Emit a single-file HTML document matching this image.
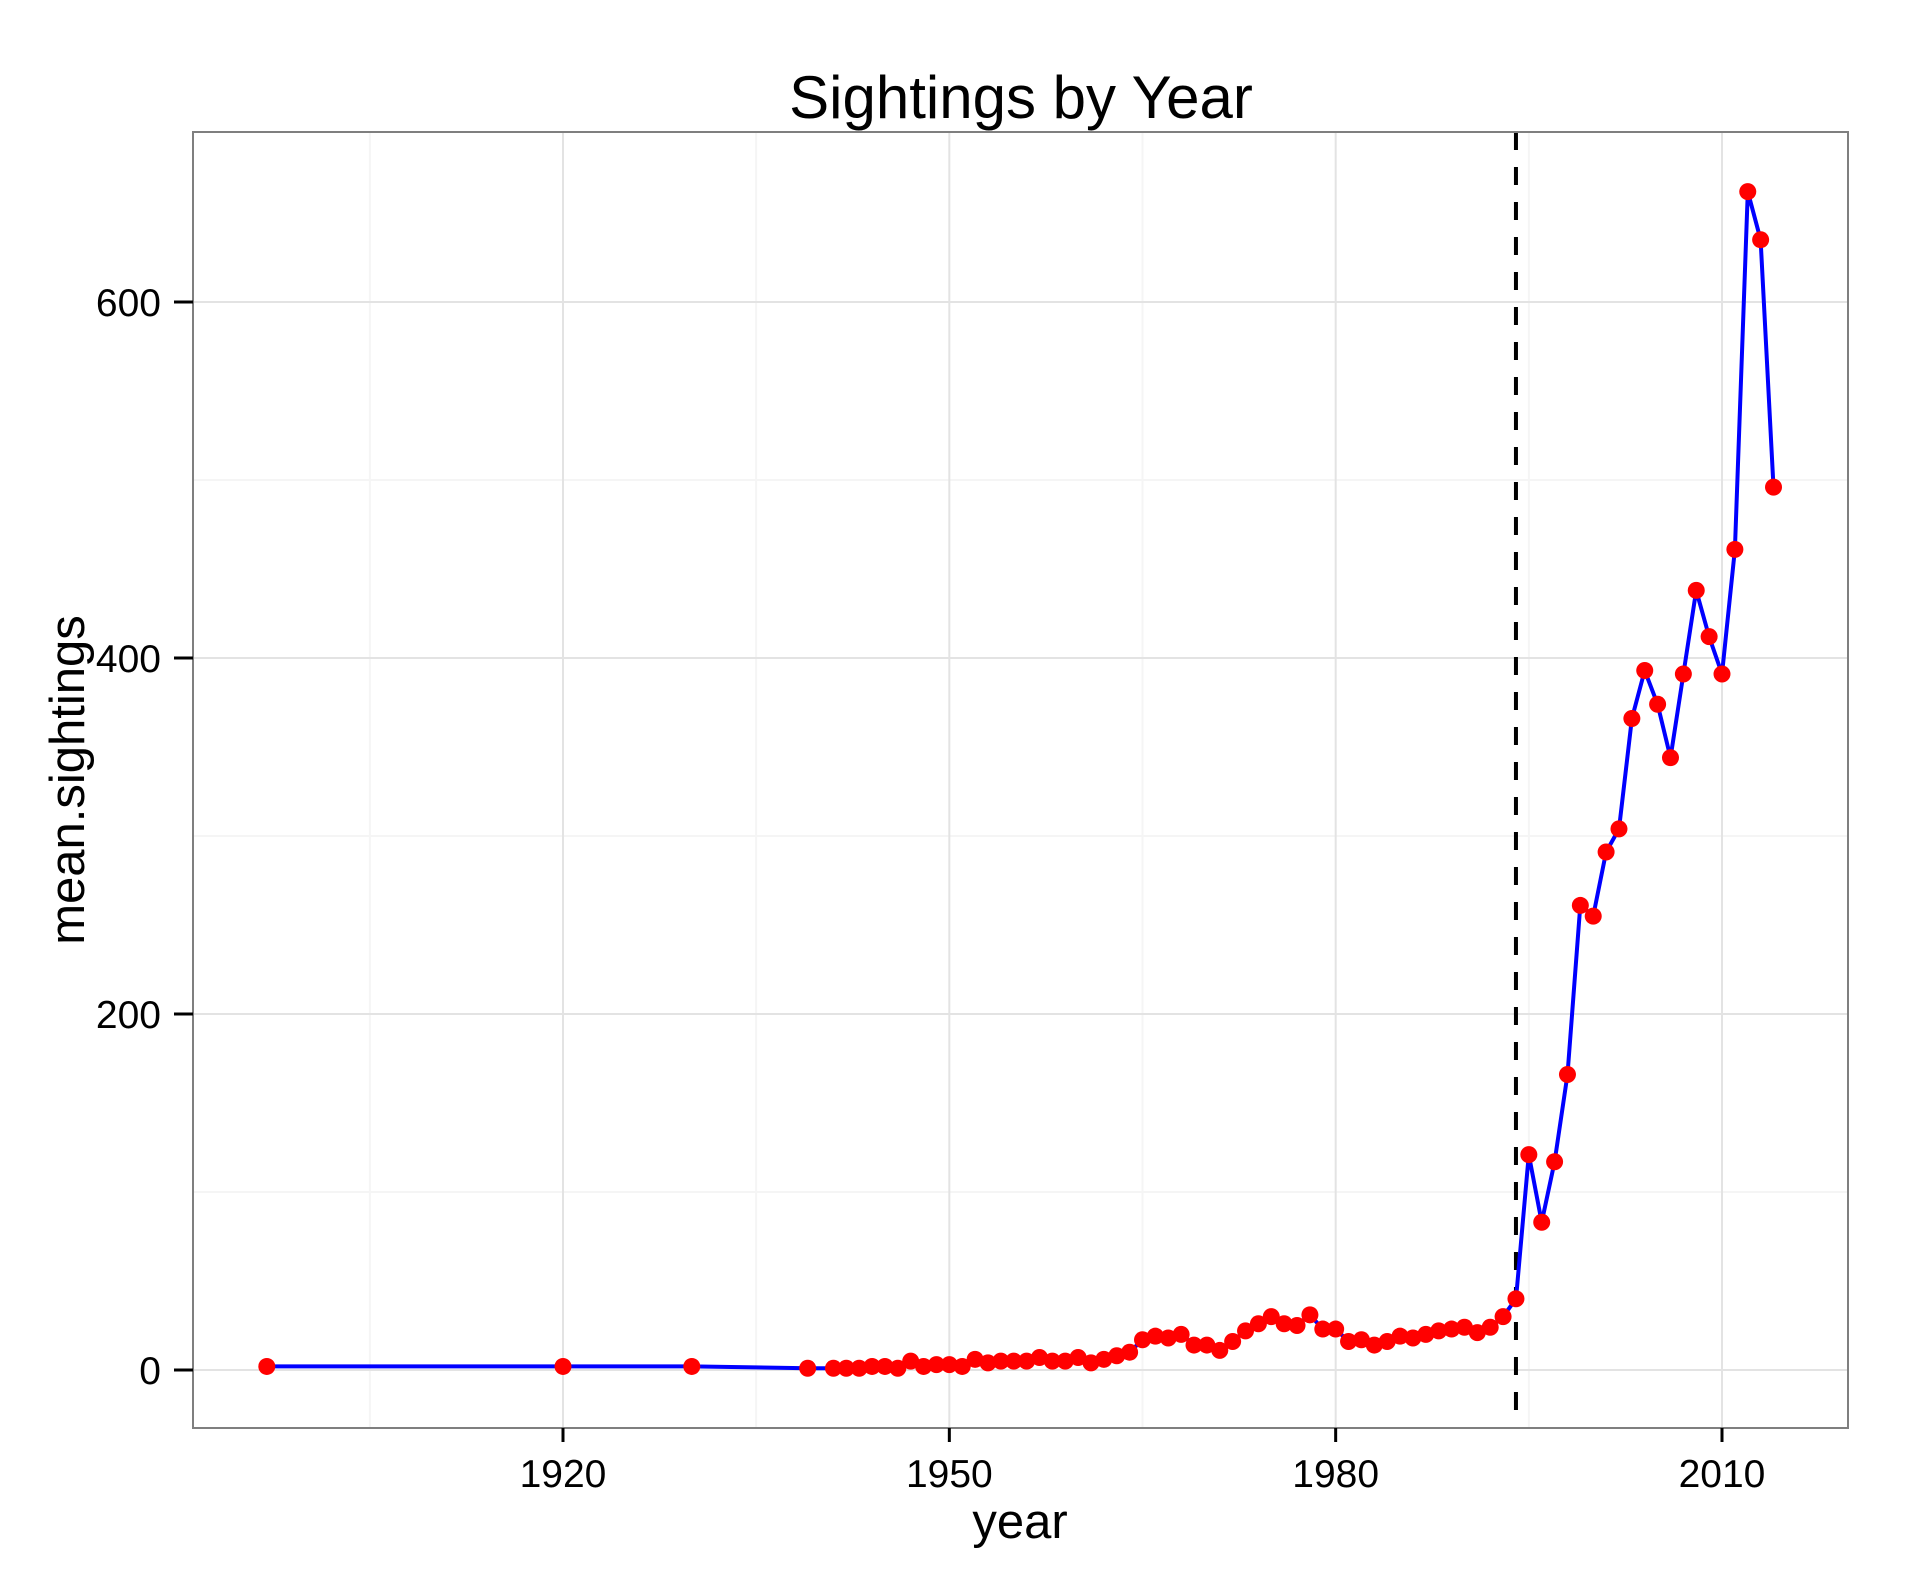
<!DOCTYPE html>
<html><head><meta charset="utf-8"><style>
html,body{margin:0;padding:0;background:#fff;}
svg{display:block;font-family:"Liberation Sans",Arial,sans-serif;}
</style></head><body>
<svg id="chart" width="1908" height="1583" viewBox="0 0 1908 1583">
<rect x="0" y="0" width="1908" height="1583" fill="#fff"/>
<text x="1021" y="118" font-size="60" text-anchor="middle">Sightings by Year</text>
<g id="grid"></g>
<g id="marks"></g>
<rect x="193" y="132" width="1655" height="1296" fill="none" stroke="#7f7f7f" stroke-width="2"/>
<g id="axes"></g>
<text x="1020" y="1538" font-size="49" text-anchor="middle">year</text>
<text transform="translate(84,780) rotate(-90)" font-size="49" text-anchor="middle">mean.sightings</text>
</svg>
<script>
const years = [1897,1920,1930,1939,1941,1942,1943,1944,1945,1946,1947,1948,1949,1950,1951,1952,1953,1954,1955,1956,1957,1958,1959,1960,1961,1962,1963,1964,1965,1966,1967,1968,1969,1970,1971,1972,1973,1974,1975,1976,1977,1978,1979,1980,1981,1982,1983,1984,1985,1986,1987,1988,1989,1990,1991,1992,1993,1994,1995,1996,1997,1998,1999,2000,2001,2002,2003,2004,2005,2006,2007,2008,2009,2010,2011,2012,2013,2014];
const sightings = [2,2,2,1,1,1,1,2,2,1,5,2,3,3,2,6,4,5,5,5,7,5,5,7,4,6,8,10,17,19,18,20,14,14,11,16,22,26,30,26,25,31,23,23,16,17,14,16,19,18,20,22,23,24,21,24,30,40,121,83,117,166,261,255,291,304,366,393,374,344,391,438,412,391,461,662,635,496];
const xMajor = [1920,1950,1980,2010];
const xMinor = [1905,1935,1965,1995];
const yMajor = [0,200,400,600];
const yMinor = [100,300,500];
const vline = [1994];

const X0=193, X1=1848, Y0=132, Y1=1428;
const sx = v => 563 + (v-1920)*(1722-563)/90;
const sy = v => 1370 - v*(1370-302)/600;
const NS="http://www.w3.org/2000/svg";
function mk(tag, parent, attrs){const e=document.createElementNS(NS,tag);for(const k in attrs)e.setAttribute(k,attrs[k]);parent.appendChild(e);return e;}
const grid=document.getElementById('grid'), marks=document.getElementById('marks'), axes=document.getElementById('axes');

xMinor.forEach(v=>{const l=mk('line',grid,{x1:sx(v),x2:sx(v),y1:Y0,y2:Y1,stroke:'#f5f5f5','stroke-width':2});

});
yMinor.forEach(v=>{const l=mk('line',grid,{x1:X0,x2:X1,y1:sy(v),y2:sy(v),stroke:'#f5f5f5','stroke-width':2});

});
xMajor.forEach(v=>{const l=mk('line',grid,{x1:sx(v),x2:sx(v),y1:Y0,y2:Y1,stroke:'#e3e3e3','stroke-width':2});


const t=mk('line',axes,{x1:sx(v),x2:sx(v),y1:Y1,y2:Y1+14,stroke:'#000','stroke-width':3});


const tx=mk('text',axes,{x:sx(v),y:1487,'font-size':39,'text-anchor':'middle'});tx.textContent=v;

});
yMajor.forEach(v=>{const l=mk('line',grid,{x1:X0,x2:X1,y1:sy(v),y2:sy(v),stroke:'#e3e3e3','stroke-width':2});


const t=mk('line',axes,{x1:X0-19,x2:X0,y1:sy(v),y2:sy(v),stroke:'#000','stroke-width':3});


const tx=mk('text',axes,{x:161,y:sy(v)+14,'font-size':39,'text-anchor':'end'});tx.textContent=v;

});

vline.forEach(v=>{const l=mk('line',marks,{x1:sx(v),x2:sx(v),y1:Y0,y2:Y1,stroke:'#000','stroke-width':4,'stroke-dasharray':'18 17'});

});

const pts=years.map((y,i)=>sx(y).toFixed(1)+','+sy(sightings[i]).toFixed(1)).join(' ');
const pl=mk('polyline',marks,{points:pts,fill:'none',stroke:'#0000ff','stroke-width':4,'stroke-linejoin':'round'});


years.forEach((y,i)=>{const c=mk('circle',marks,{cx:sx(y),cy:sy(sightings[i]),r:8.5,fill:'#ff0000'});

});
</script>
</body></html>
